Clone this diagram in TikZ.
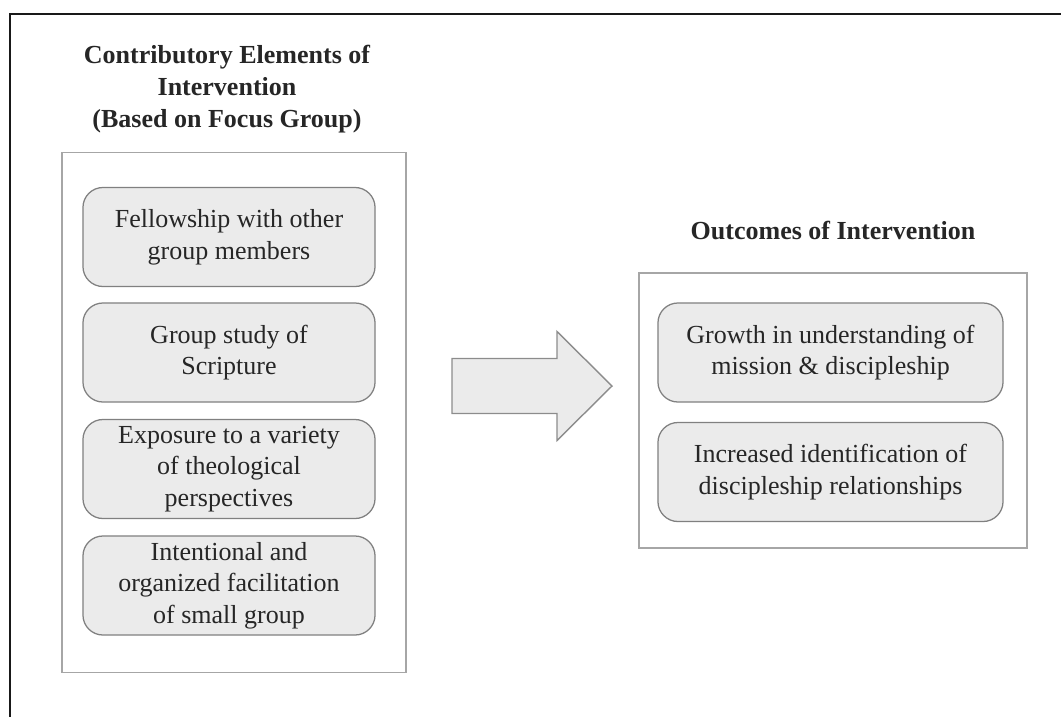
\documentclass[tikz,border=0pt]{standalone}
\usepackage{fontspec}
\setmainfont{Liberation Serif}
\begin{document}
\begin{tikzpicture}[x=0.025cm,y=-0.025cm,
    txt/.style={font=\fontsize{18.5}{22.5}\selectfont, text=black!85, align=center},
    head/.style={txt, font=\fontsize{18.5}{22.5}\selectfont\bfseries},
    item/.style={txt, draw=black!50, fill=black!8, line width=0.9pt,
      rounded corners=0.5cm, minimum height=2.475cm, inner sep=2pt},
    panel/.style={draw=black!35, line width=1.2pt, inner sep=0pt}]
  \useasboundingbox (0,0) rectangle (1061,717);
  % frame (top and left only)
  \draw[line width=1.5pt, black!90] (1061,14) -- (10,14) -- (10,717);

  % left column
  \node[head] (contribtitle) at (227,89)
    {Contributory Elements of\\Intervention\\(Based on Focus Group)};
  \node[panel, minimum width=8.6cm, minimum height=13cm] (contrib) at (234,412.5) {};
  \begin{scope}[every node/.style={item, minimum width=7.3cm}]
    \node (fellow) at (229,237) {Fellowship with other\\group members};
    \node (study) at (229,352.5) {Group study of\\Scripture};
    \node (expose) at (229,469) {Exposure to a variety\\of theological\\perspectives};
    \node (facil) at (229,585.5) {Intentional and\\organized facilitation\\of small group};
  \end{scope}

  % block arrow
  \draw[draw=black!45, fill=black!8, line width=1pt, line join=miter]
    (452,358.5) -- (557,358.5) -- (557,331.5) -- (612,386) -- (557,440.5)
    -- (557,413.5) -- (452,413.5) -- cycle;

  % right column
  \node[head] (outtitle) at (833,230) {Outcomes of Intervention};
  \node[panel, minimum width=9.7cm, minimum height=6.875cm] (outcome) at (833,410.5) {};
  \begin{scope}[every node/.style={item, minimum width=8.625cm}]
    \node (growth) at (830.5,352.5) {Growth in understanding of\\mission \& discipleship};
    \node (ident) at (830.5,472) {Increased identification of\\discipleship relationships};
  \end{scope}
\end{tikzpicture}
\end{document}
